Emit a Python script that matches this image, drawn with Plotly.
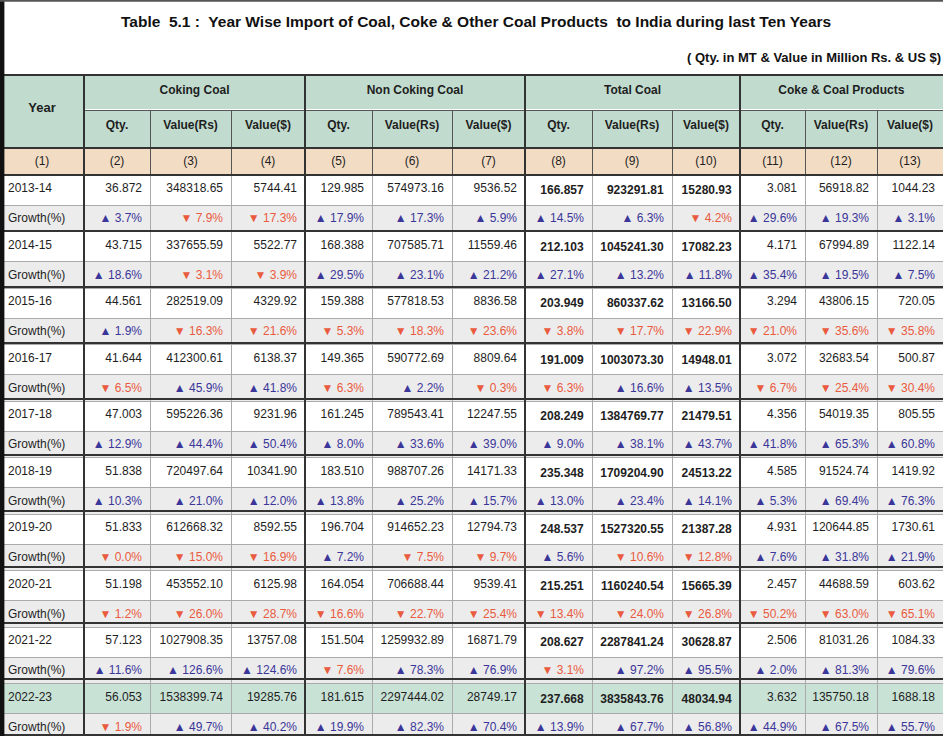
import math
import plotly.graph_objects as go

years = ["2013-14", "2014-15", "2015-16", "2016-17", "2017-18",
         "2018-19", "2019-20", "2020-21", "2021-22", "2022-23"]

groups = ["Coking Coal", "Non Coking Coal", "Total Coal", "Coke & Coal Products"]
sub_headers = ["Qty.", "Value(Rs)", "Value($)"]
col_numbers = ["(1)", "(2)", "(3)", "(4)", "(5)", "(6)", "(7)", "(8)", "(9)", "(10)", "(11)", "(12)", "(13)"]

coking_qty = [36.872, 43.715, 44.561, 41.644, 47.003, 51.838, 51.833, 51.198, 57.123, 56.053]
coking_qty_g = [3.7, 18.6, 1.9, -6.5, 12.9, 10.3, -0.0, -1.2, 11.6, -1.9]
coking_rs = [348318.65, 337655.59, 282519.09, 412300.61, 595226.36, 720497.64, 612668.32, 453552.10, 1027908.35, 1538399.74]
coking_rs_g = [-7.9, -3.1, -16.3, 45.9, 44.4, 21.0, -15.0, -26.0, 126.6, 49.7]
coking_usd = [5744.41, 5522.77, 4329.92, 6138.37, 9231.96, 10341.90, 8592.55, 6125.98, 13757.08, 19285.76]
coking_usd_g = [-17.3, -3.9, -21.6, 41.8, 50.4, 12.0, -16.9, -28.7, 124.6, 40.2]

noncoking_qty = [129.985, 168.388, 159.388, 149.365, 161.245, 183.510, 196.704, 164.054, 151.504, 181.615]
noncoking_qty_g = [17.9, 29.5, -5.3, -6.3, 8.0, 13.8, 7.2, -16.6, -7.6, 19.9]
noncoking_rs = [574973.16, 707585.71, 577818.53, 590772.69, 789543.41, 988707.26, 914652.23, 706688.44, 1259932.89, 2297444.02]
noncoking_rs_g = [17.3, 23.1, -18.3, 2.2, 33.6, 25.2, -7.5, -22.7, 78.3, 82.3]
noncoking_usd = [9536.52, 11559.46, 8836.58, 8809.64, 12247.55, 14171.33, 12794.73, 9539.41, 16871.79, 28749.17]
noncoking_usd_g = [5.9, 21.2, -23.6, -0.3, 39.0, 15.7, -9.7, -25.4, 76.9, 70.4]

total_qty = [166.857, 212.103, 203.949, 191.009, 208.249, 235.348, 248.537, 215.251, 208.627, 237.668]
total_qty_g = [14.5, 27.1, -3.8, -6.3, 9.0, 13.0, 5.6, -13.4, -3.1, 13.9]
total_rs = [923291.81, 1045241.30, 860337.62, 1003073.30, 1384769.77, 1709204.90, 1527320.55, 1160240.54, 2287841.24, 3835843.76]
total_rs_g = [6.3, 13.2, -17.7, 16.6, 38.1, 23.4, -10.6, -24.0, 97.2, 67.7]
total_usd = [15280.93, 17082.23, 13166.50, 14948.01, 21479.51, 24513.22, 21387.28, 15665.39, 30628.87, 48034.94]
total_usd_g = [-4.2, 11.8, -22.9, 13.5, 43.7, 14.1, -12.8, -26.8, 95.5, 56.8]

coke_qty = [3.081, 4.171, 3.294, 3.072, 4.356, 4.585, 4.931, 2.457, 2.506, 3.632]
coke_qty_g = [29.6, 35.4, -21.0, -6.7, 41.8, 5.3, 7.6, -50.2, 2.0, 44.9]
coke_rs = [56918.82, 67994.89, 43806.15, 32683.54, 54019.35, 91524.74, 120644.85, 44688.59, 81031.26, 135750.18]
coke_rs_g = [19.3, 19.5, -35.6, -25.4, 65.3, 69.4, 31.8, -63.0, 81.3, 67.5]
coke_usd = [1044.23, 1122.14, 720.05, 500.87, 805.55, 1419.92, 1730.61, 603.62, 1084.33, 1688.18]
coke_usd_g = [3.1, 7.5, -35.8, -30.4, 60.8, 76.3, 21.9, -65.1, 79.6, 55.7]

# ---- styling / layout ----
W, H = 943, 736
FONT = "Liberation Sans, Arial, sans-serif"
UP, DOWN, DARK = "#3b3699", "#ea5a3e", "#1e1e1e"
HEAD_FILL, NUM_FILL = "#c1dccf", "#f3dcc4"
WHITE, GREY, LAST = "#ffffff", "#ececec", "#c9e2d6"
col_px = [84, 66, 81, 74, 67, 80, 73, 67, 80, 68, 65, 72, 66]
group_px = [sum(col_px[1 + 3 * i:4 + 3 * i]) for i in range(4)]
NBSP = "\u00a0"

series = [
    (coking_qty, coking_qty_g, 3, False), (coking_rs, coking_rs_g, 2, False), (coking_usd, coking_usd_g, 2, False),
    (noncoking_qty, noncoking_qty_g, 3, False), (noncoking_rs, noncoking_rs_g, 2, False), (noncoking_usd, noncoking_usd_g, 2, False),
    (total_qty, total_qty_g, 3, True), (total_rs, total_rs_g, 2, True), (total_usd, total_usd_g, 2, True),
    (coke_qty, coke_qty_g, 3, False), (coke_rs, coke_rs_g, 2, False), (coke_usd, coke_usd_g, 2, False),
]

def growth_txt(g):
    up = math.copysign(1, g) > 0
    return ("▲" if up else "▼") + NBSP + f"{abs(g):.1f}%", (UP if up else DOWN)

n = len(years)
row_fill = []
for i in range(n):
    row_fill += [LAST if i == n - 1 else WHITE, GREY]

year_col, year_col_c = [], []
for y in years:
    year_col += [y, "Growth(%)"]
    year_col_c += [DARK, DARK]

cols, colors = [year_col], [year_col_c]
for vals, gr, dec, bold in series:
    c, cc = [], []
    for v, g in zip(vals, gr):
        s = f"{v:.{dec}f}"
        c.append(f"<b>{s}</b>" if bold else s)
        cc.append(DARK)
        t, col = growth_txt(g)
        c.append(t)
        cc.append(col)
    cols.append(c)
    colors.append(cc)

def py(px):
    return 1 - px / H

x_year = col_px[0] / W
T0, T1, T2, T3 = 75, 110, 148, 175
ROW_H = 28

fig = go.Figure()
# Year header (spans two header rows)
fig.add_trace(go.Table(
    domain=dict(x=[0, x_year], y=[py(T2), py(T0)]),
    columnwidth=[col_px[0]],
    header=dict(values=[NBSP + "<br><b>Year</b>"], height=T2 - T0, fill_color=HEAD_FILL,
                line=dict(color="#555", width=1), align="center",
                font=dict(family=FONT, size=13, color=DARK)),
    cells=dict(values=[[]], height=1),
))
# Group header
fig.add_trace(go.Table(
    domain=dict(x=[x_year, 1], y=[py(T1), py(T0)]),
    columnwidth=group_px,
    header=dict(values=[f"<b>{g}</b>" for g in groups], height=T1 - T0, fill_color=HEAD_FILL,
                line=dict(color="#555", width=1), align="center",
                font=dict(family=FONT, size=12, color=DARK)),
    cells=dict(values=[[] for _ in groups], height=1),
))
# Sub headers
fig.add_trace(go.Table(
    domain=dict(x=[x_year, 1], y=[py(T2), py(T1)]),
    columnwidth=col_px[1:],
    header=dict(values=[f"<b>{s}</b>" for s in sub_headers * 4], height=T2 - T1, fill_color=HEAD_FILL,
                line=dict(color="#555", width=1), align="center",
                font=dict(family=FONT, size=12, color=DARK)),
    cells=dict(values=[[] for _ in range(12)], height=1),
))
# Body
fig.add_trace(go.Table(
    domain=dict(x=[0, 1], y=[0, py(T2)]),
    columnwidth=col_px,
    header=dict(values=col_numbers, height=T3 - T2, fill_color=NUM_FILL,
                line=dict(color="#555", width=1), align="center",
                font=dict(family=FONT, size=12, color=DARK)),
    cells=dict(values=cols, height=ROW_H - 1.5,
               fill_color=[row_fill] * 13,
               line=dict(color="#aaaaaa", width=1),
               align=["left"] + ["right"] * 12,
               font=dict(family=FONT, size=12, color=colors)),
))

shapes = []
for k in range(n + 1):
    yy = py(T3 + 2 * ROW_H * k)
    shapes.append(dict(type="line", xref="paper", yref="paper", x0=0, x1=1, y0=yy, y1=yy,
                       line=dict(color="#333", width=2)))
for yy in (py(T0), py(T2)):
    shapes.append(dict(type="line", xref="paper", yref="paper", x0=0, x1=1, y0=yy, y1=yy,
                       line=dict(color="#333", width=2)))
acc = 0
for i, w in enumerate(col_px):
    acc += w
    if i in (0, 3, 6, 9):
        xx = acc / W
        shapes.append(dict(type="line", xref="paper", yref="paper", x0=xx, x1=xx, y0=0, y1=py(T0),
                           line=dict(color="#333", width=2)))
shapes.append(dict(type="line", xref="paper", yref="paper", x0=0.002, x1=0.002, y0=0, y1=1,
                   line=dict(color="#111", width=5)))
shapes.append(dict(type="line", xref="paper", yref="paper", x0=0, x1=1, y0=0.999, y1=0.999,
                   line=dict(color="#555", width=2)))

fig.update_layout(
    width=W, height=H, margin=dict(l=0, r=0, t=0, b=0),
    paper_bgcolor="white", shapes=shapes,
    annotations=[
        dict(text="<b>Table  5.1 :  Year Wise Import of Coal, Coke & Other Coal Products  to India during last Ten Years</b>",
             x=476 / W, y=py(22), xref="paper", yref="paper", showarrow=False,
             font=dict(family=FONT, size=15.5, color="#111"), xanchor="center", yanchor="middle"),
        dict(text="<b>( Qty. in MT & Value in Million Rs. & US $)</b>",
             x=1, y=py(57), xref="paper", yref="paper", showarrow=False,
             font=dict(family=FONT, size=13, color="#111"), xanchor="right", yanchor="middle"),
    ],
)

fig.write_html("out.html", config={"displayModeBar": False},
               post_script="document.body.style.margin='0';document.body.style.overflow='hidden';")
